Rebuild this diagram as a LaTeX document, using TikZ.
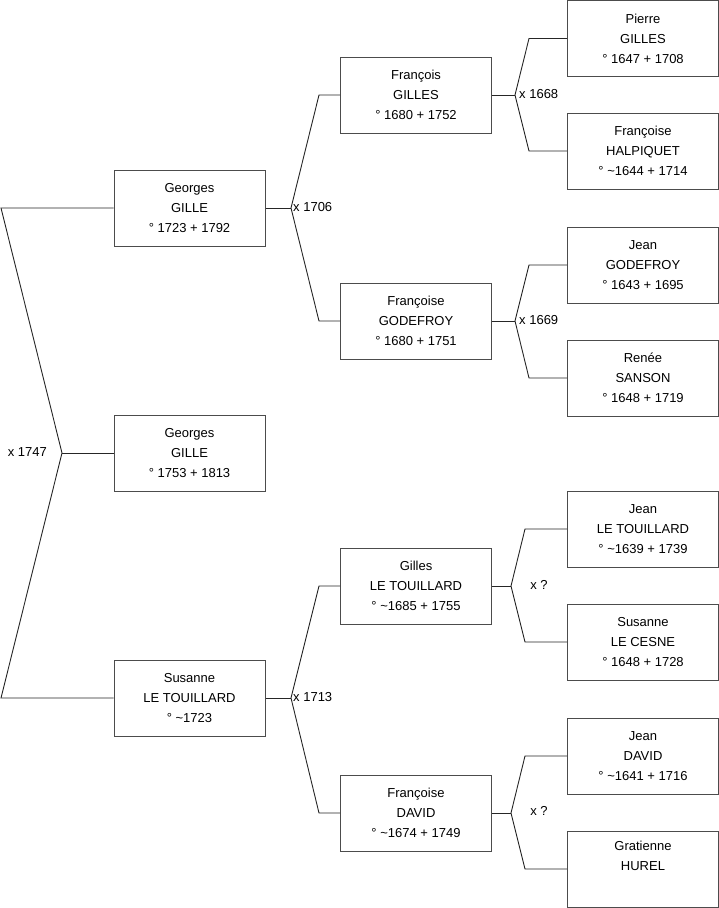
\documentclass[tikz,border=0pt]{standalone}
\usepackage{fontspec}
\setmainfont{Liberation Sans}
\begin{document}
\begin{tikzpicture}[x=1pt,y=-1pt,
  person/.style={draw=black!70, line width=1pt, fill=white, minimum width=151pt, minimum height=76pt,
    inner sep=0pt, align=center, font=\fontsize{13}{20}\selectfont},
  link/.style={draw=black!85, line width=0.9pt},
  mlabel/.style={font=\fontsize{13}{15}\selectfont, inner sep=0pt}]
\useasboundingbox (0,0) rectangle (719,908);
% generation 1
\node[person] (g1) at (189.5,208) {Georges\\GILLE\\° 1723 + 1792};
\node[person] (g0) at (189.5,453) {Georges\\GILLE\\° 1753 + 1813};
\node[person] (s1) at (189.5,698) {Susanne\\LE TOUILLARD\\° \textasciitilde1723};
% generation 2
\node[person] (f2) at (416,95) {François\\GILLES\\° 1680 + 1752};
\node[person] (fg2) at (416,321) {Françoise\\GODEFROY\\° 1680 + 1751};
\node[person] (gl2) at (416,586) {Gilles\\LE TOUILLARD\\° \textasciitilde1685 + 1755};
\node[person] (fd2) at (416,813) {Françoise\\DAVID\\° \textasciitilde1674 + 1749};
% generation 3
\node[person] (p3) at (643,38.5) {Pierre\\GILLES\\° 1647 + 1708};
\node[person] (fh3) at (643,151) {Françoise\\HALPIQUET\\° \textasciitilde1644 + 1714};
\node[person] (jg3) at (643,265) {Jean\\GODEFROY\\° 1643 + 1695};
\node[person] (rs3) at (643,378) {Renée\\SANSON\\° 1648 + 1719};
\node[person] (jl3) at (643,529) {Jean\\LE TOUILLARD\\° \textasciitilde1639 + 1739};
\node[person] (sl3) at (643,642) {Susanne\\LE CESNE\\° 1648 + 1728};
\node[person] (jd3) at (643,756) {Jean\\DAVID\\° \textasciitilde1641 + 1716};
\node[person] (gh3) at (643,869) {Gratienne\\HUREL\\\strut};
% couple vertices and bends
\coordinate (v0) at (62,453);
\coordinate (a0) at (1,208);
\coordinate (b0) at (1,698);
\coordinate (v1) at (291,208);
\coordinate (a1) at (319,95);
\coordinate (b1) at (319,321);
\coordinate (v2) at (291,698);
\coordinate (a2) at (319,586);
\coordinate (b2) at (319,813);
\coordinate (v3) at (515,95);
\coordinate (a3) at (529,38.5);
\coordinate (b3) at (529,151);
\coordinate (v4) at (515,321);
\coordinate (a4) at (529,265);
\coordinate (b4) at (529,378);
\coordinate (v5) at (511,586);
\coordinate (a5) at (525,529);
\coordinate (b5) at (525,642);
\coordinate (v6) at (511,813);
\coordinate (a6) at (525,756);
\coordinate (b6) at (525,869);
% connectors
\draw[link] (g0.west) -- (v0);
\draw[link] (g1.west) -- (a0) -- (v0) -- (b0) -- (s1.west);
\draw[link] (g1.east) -- (v1);
\draw[link] (f2.west) -- (a1) -- (v1) -- (b1) -- (fg2.west);
\draw[link] (s1.east) -- (v2);
\draw[link] (gl2.west) -- (a2) -- (v2) -- (b2) -- (fd2.west);
\draw[link] (f2.east) -- (v3);
\draw[link] (p3.west) -- (a3) -- (v3) -- (b3) -- (fh3.west);
\draw[link] (fg2.east) -- (v4);
\draw[link] (jg3.west) -- (a4) -- (v4) -- (b4) -- (rs3.west);
\draw[link] (gl2.east) -- (v5);
\draw[link] (jl3.west) -- (a5) -- (v5) -- (b5) -- (sl3.west);
\draw[link] (fd2.east) -- (v6);
\draw[link] (jd3.west) -- (a6) -- (v6) -- (b6) -- (gh3.west);
% marriage labels
\node[mlabel, anchor=east] (m0) at (47,452) {x 1747};
\node[mlabel, anchor=west] (m1) at (293,207) {x 1706};
\node[mlabel, anchor=west] (m2) at (293,697) {x 1713};
\node[mlabel, anchor=west] (m3) at (519,94) {x 1668};
\node[mlabel, anchor=west] (m4) at (519,320) {x 1669};
\node[mlabel] (m5) at (539,585) {x ?};
\node[mlabel] (m6) at (539,811) {x ?};
\end{tikzpicture}
\end{document}
